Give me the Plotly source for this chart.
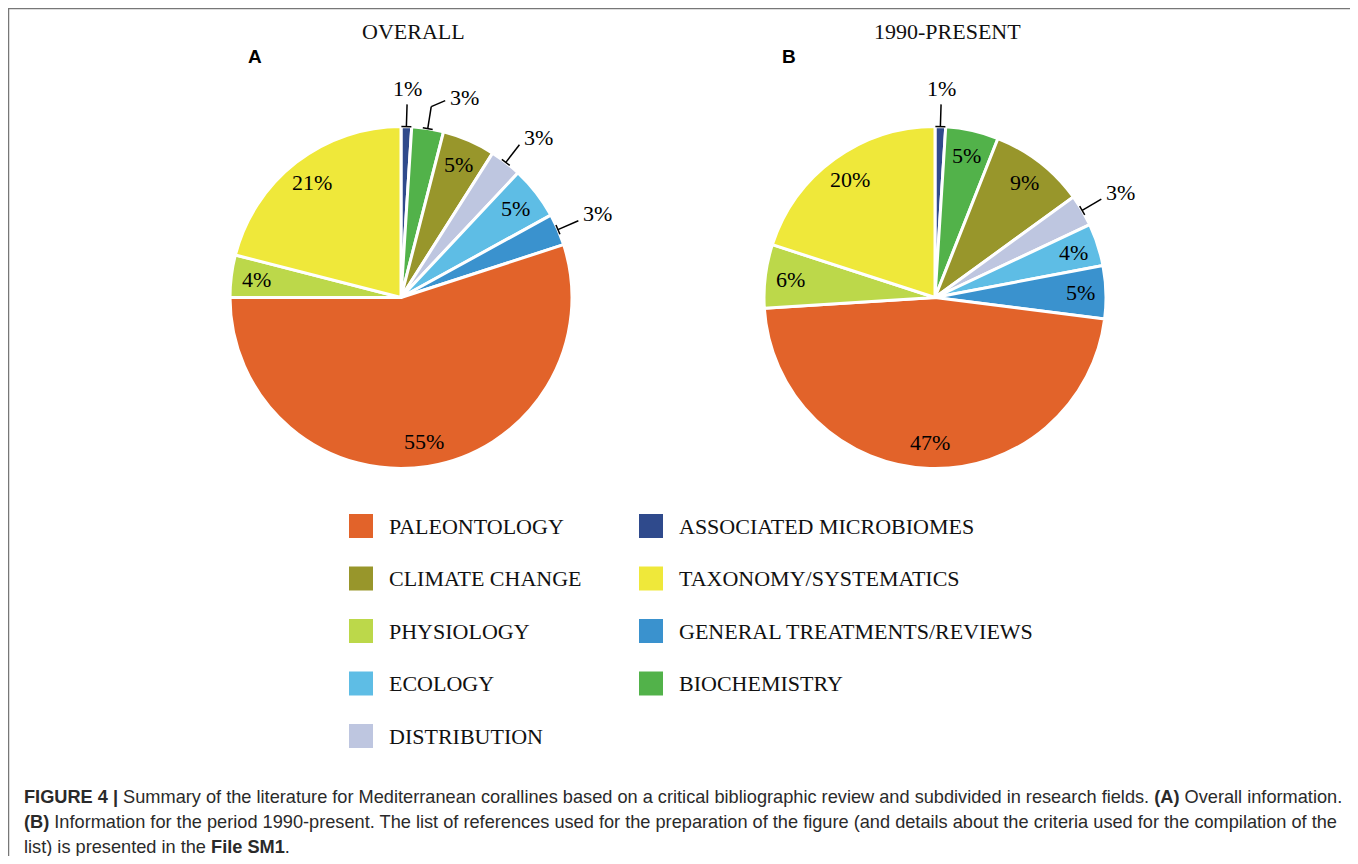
import math
import plotly.graph_objects as go

# ---------------- data ----------------
categories = [
    "ASSOCIATED MICROBIOMES", "BIOCHEMISTRY", "CLIMATE CHANGE", "DISTRIBUTION",
    "ECOLOGY", "GENERAL TREATMENTS/REVIEWS", "PALEONTOLOGY", "PHYSIOLOGY",
    "TAXONOMY/SYSTEMATICS",
]
overall_pct = [1, 3, 5, 3, 5, 3, 55, 4, 21]
recent_pct = [1, 5, 9, 3, 4, 5, 47, 6, 20]
overall_outside = ["ASSOCIATED MICROBIOMES", "BIOCHEMISTRY", "DISTRIBUTION",
                   "GENERAL TREATMENTS/REVIEWS"]
recent_outside = ["ASSOCIATED MICROBIOMES", "DISTRIBUTION"]
legend_col1 = ["PALEONTOLOGY", "CLIMATE CHANGE", "PHYSIOLOGY", "ECOLOGY", "DISTRIBUTION"]
legend_col2 = ["ASSOCIATED MICROBIOMES", "TAXONOMY/SYSTEMATICS",
               "GENERAL TREATMENTS/REVIEWS", "BIOCHEMISTRY"]
panel_titles = ["OVERALL", "1990-PRESENT"]
panel_letters = ["A", "B"]
caption_lines = [
    "<b>FIGURE 4 |</b> Summary of the literature for Mediterranean corallines based on a critical "
    "bibliographic review and subdivided in research fields. <b>(A)</b> Overall information.",
    "<b>(B)</b> Information for the period 1990-present. The list of references used for the "
    "preparation of the figure (and details about the criteria used for the compilation of the",
    "list) is presented in the <b>File SM1</b>.",
]

# ---------------- style ----------------
colors = {
    "ASSOCIATED MICROBIOMES": "#2F4A8C",
    "BIOCHEMISTRY": "#52B24A",
    "CLIMATE CHANGE": "#98962B",
    "DISTRIBUTION": "#BEC6E0",
    "ECOLOGY": "#5EBDE5",
    "GENERAL TREATMENTS/REVIEWS": "#3A92CE",
    "PALEONTOLOGY": "#E2632A",
    "PHYSIOLOGY": "#BCD84A",
    "TAXONOMY/SYSTEMATICS": "#EFE83A",
}
OFF = 8                     # page body margin of the browser
W, H = 1350, 848            # figure size (page coords 8..1358, 8..856)
SERIF = "Liberation Serif, Times New Roman, serif"
SANS = "Liberation Sans, Arial, sans-serif"
R = 171
centers = [(401, 297.5), (935, 297.5)]


def px(x):
    return (x - OFF) / W


def py(y):
    return 1 - (y - OFF) / H


def seg(x0, y0, x1, y1, w=1.5):
    return dict(type="line", xref="paper", yref="paper",
                x0=px(x0), y0=py(y0), x1=px(x1), y1=py(y1),
                line=dict(color="black", width=w))


fig = go.Figure()
shapes = []
annotations = []
LABEL_FONT = dict(family=SERIF, size=22, color="black")

for idx, (vals, outside) in enumerate([(overall_pct, overall_outside),
                                       (recent_pct, recent_outside)]):
    cx, cy = centers[idx]
    fig.add_trace(go.Pie(
        values=vals, labels=categories, sort=False, direction="clockwise",
        rotation=0, textinfo="none", showlegend=False,
        marker=dict(colors=[colors[c] for c in categories],
                    line=dict(color="white", width=3)),
        domain=dict(x=[px(cx - R), px(cx + R)], y=[py(cy + R), py(cy - R)]),
        hovertemplate="%{label}: %{value}%<extra></extra>",
    ))
    total = float(sum(vals))
    cum = 0.0
    for cat, v in zip(categories, vals):
        mid = (cum + v / 2) / total * 2 * math.pi
        cum += v
        s, c = math.sin(mid), math.cos(mid)
        deg = math.degrees(mid)
        label = f"{v}%"
        if cat in outside:
            ex, ey = cx + R * s, cy - R * c
            ox, oy = cx + R * 1.13 * s, cy - R * 1.13 * c
            t = 5
            shapes.append(seg(ex - t * c, ey - t * s, ex + t * c, ey + t * s))
            shapes.append(seg(ex, ey, ox, oy))
            if deg < 5:
                annotations.append(dict(x=px(ox), y=py(oy - 1), text=label,
                                        xanchor="center", yanchor="bottom",
                                        showarrow=False, font=LABEL_FONT))
            else:
                if deg < 20:
                    bx, by = ox + 14, oy - 6
                    shapes.append(seg(ox, oy, bx, by))
                    ox, oy = bx, by + 4
                annotations.append(dict(x=px(ox + 3), y=py(oy - 7), text=label,
                                        xanchor="left", yanchor="middle",
                                        showarrow=False, font=LABEL_FONT))
        else:
            lx, ly = cx + R * 0.85 * s, cy - R * 0.85 * c
            annotations.append(dict(x=px(lx), y=py(ly), text=label,
                                    xanchor="center", yanchor="middle",
                                    showarrow=False, font=LABEL_FONT))

    annotations.append(dict(x=px(cx + 12), y=py(32), text=panel_titles[idx],
                            xanchor="center", yanchor="middle", showarrow=False,
                            font=dict(family=SERIF, size=22, color="#111")))
    annotations.append(dict(x=px(cx - 146), y=py(57), text=f"<b>{panel_letters[idx]}</b>",
                            xanchor="center", yanchor="middle", showarrow=False,
                            font=dict(family=SANS, size=19, color="black")))

# legend (manual, two columns)
SQ = 24
for col_x, items in [(349, legend_col1), (639, legend_col2)]:
    for i, cat in enumerate(items):
        yc = 526 + i * 52.5
        shapes.append(dict(type="rect", xref="paper", yref="paper",
                           x0=px(col_x), x1=px(col_x + SQ),
                           y0=py(yc + SQ / 2), y1=py(yc - SQ / 2),
                           fillcolor=colors[cat], line=dict(width=0)))
        annotations.append(dict(x=px(col_x + 38), y=py(yc), text=cat,
                                xanchor="left", yanchor="middle", showarrow=False,
                                font=dict(family=SERIF, size=22, color="#111")))

# caption
for i, line in enumerate(caption_lines):
    annotations.append(dict(x=px(22), y=py(797 + i * 25), text=line,
                            xanchor="left", yanchor="middle", showarrow=False,
                            font=dict(family=SANS, size=18.2, color="#2a2a2a")))

# frame (bottom edge runs off the page)
shapes.append(dict(type="rect", xref="paper", yref="paper",
                   x0=px(8.5), x1=px(1355), y0=py(900), y1=py(8.5),
                   line=dict(color="#777", width=1.5), fillcolor="rgba(0,0,0,0)"))

fig.update_layout(
    width=W, height=H, margin=dict(l=0, r=0, t=0, b=0),
    paper_bgcolor="white", plot_bgcolor="white",
    shapes=shapes, annotations=annotations,
)

fig.write_html("out.html")
